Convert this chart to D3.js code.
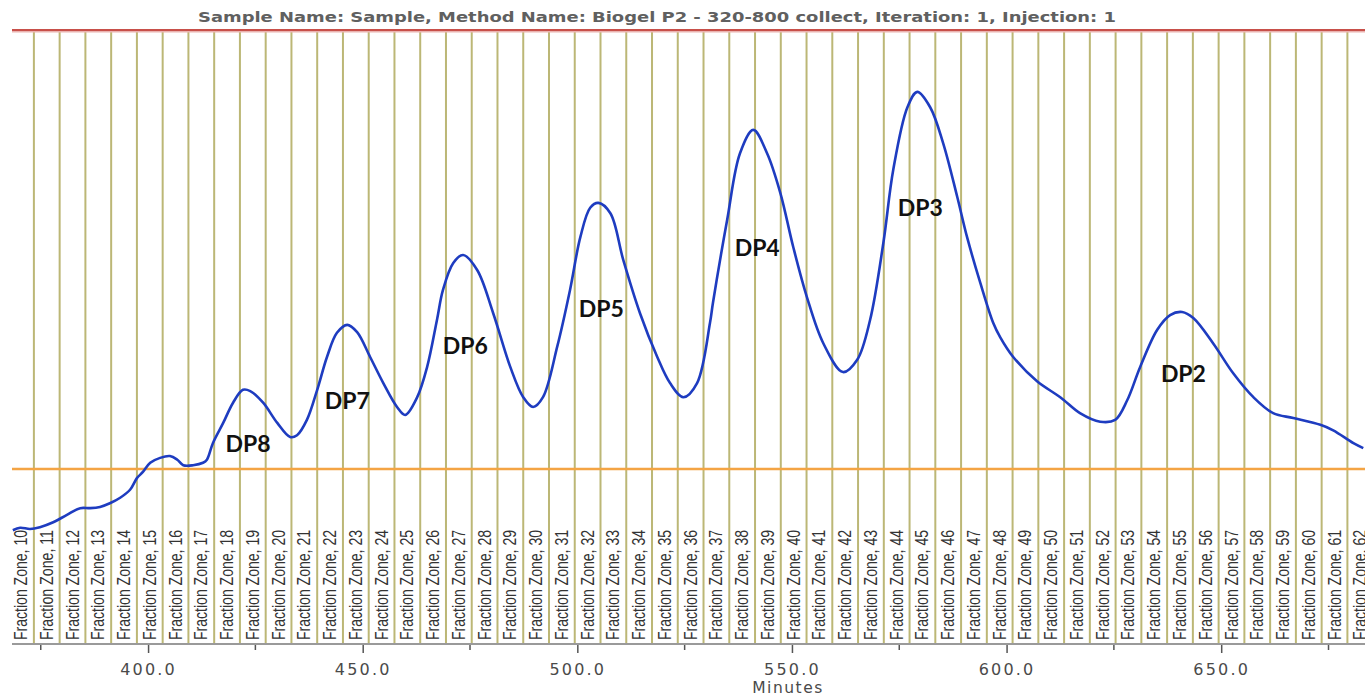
<!DOCTYPE html>
<html>
<head>
<meta charset="utf-8">
<script src="https://cdn.jsdelivr.net/npm/d3@7"></script>
<style>
  html, body { margin: 0; padding: 0; background: #fff; overflow: hidden; }
  svg { display: block; }
</style>
</head>
<body>
<svg id="chart" width="1365" height="697"></svg>
<script>
// ---------- data ----------
const titleText = "Sample Name: Sample, Method Name: Biogel P2 - 320-800 collect, Iteration: 1, Injection: 1";
const xAxisTitle = "Minutes";

const minutes = [368.5,370.2,372.5,374.8,377.9,381.1,384.2,386.5,388.8,391.1,393.5,395.8,397.4,398.8,400.5,402.8,405.1,406.8,408.2,410.5,412.8,413.7,415.1,417.5,419.8,422.1,423.8,426.8,430.1,433.1,434.7,437.0,439.4,441.7,444.0,446.4,448.7,451.7,454.8,458.0,459.9,462.7,465.0,467.3,468.7,471.1,473.4,476.7,480.4,484.4,487.4,489.7,492.0,495.3,498.3,500.7,503.0,504.9,507.7,510.7,514.6,518.6,521.6,524.7,527.9,530.9,531.6,534.9,537.9,541.0,544.2,547.3,550.3,553.5,557.3,561.9,565.2,568.2,571.3,573.6,576.9,579.2,582.2,585.2,588.5,590.8,593.9,596.9,598.5,601.5,607.1,612.5,617.1,621.8,625.3,628.1,631.1,635.1,638.1,640.9,643.5,648.1,652.8,657.5,662.1,666.8,673.1,676.1,680.8,683.1];
const signal = [18.4,18.8,18.6,18.9,19.7,20.9,22.0,22.0,22.2,22.8,23.7,25.0,26.9,27.9,29.4,30.2,30.5,29.9,29.0,29.0,29.4,29.9,32.6,35.9,39.2,41.3,41.1,39.2,35.9,33.6,33.9,36.4,41.3,46.7,50.6,51.9,50.7,46.7,42.4,38.5,37.2,40.1,45.0,52.7,57.6,62.0,63.3,60.8,53.8,45.0,40.1,38.5,40.1,48.3,57.6,66.2,71.0,71.8,70.1,62.5,53.8,46.7,42.4,40.1,42.4,52.2,55.5,69.0,79.9,83.7,79.9,73.4,64.6,56.4,48.9,44.2,46.2,52.7,65.3,77.2,87.4,89.9,87.4,81.6,72.8,66.2,58.7,52.2,49.9,46.7,42.7,40.1,37.5,36.1,36.4,39.6,45.0,51.1,53.5,54.0,53.0,48.9,44.0,40.1,37.5,36.7,35.6,34.7,32.6,31.8];

const upperThreshold = 100;
const lowerThreshold = 28.4;

const zoneNumbers = [10,11,12,13,14,15,16,17,18,19,20,21,22,23,24,25,26,27,28,29,30,31,32,33,34,35,36,37,38,39,40,41,42,43,44,45,46,47,48,49,50,51,52,53,54,55,56,57,58,59,60,61,62];
const zoneStarts = [367.4,373.4,379.4,385.4,391.4,397.4,403.4,409.4,415.4,421.4,427.4,433.4,439.4,445.4,451.4,457.4,463.4,469.4,475.4,481.4,487.4,493.4,499.4,505.4,511.4,517.4,523.4,529.4,535.4,541.4,547.4,553.4,559.4,565.4,571.4,577.4,583.4,589.4,595.4,601.4,607.4,613.4,619.4,625.4,631.4,637.4,643.4,649.4,655.4,661.4,667.4,673.4,679.4];
const zoneWidth = 6;

const peakLabels = ["DP8","DP7","DP6","DP5","DP4","DP3","DP2"];
const peakLabelMin = [423.3,446.4,473.9,505.6,541.9,579.9,641.2];
const peakLabelVal = [32.6,39.6,48.6,54.6,64.6,71.1,44.0];

const majorTicks = [400,450,500,550,600,650];
const minorTicks = [375,425,475,525,575,625,675];

// ---------- layout ----------
const svg = d3.select("#chart");
const plotL = 12, plotR = 1365, plotT = 30, plotB = 643;

const x = d3.scaleLinear().domain([368.3, 683.5]).range([plotL, plotR]);
const y = d3.scaleLinear().domain([0, 100]).range([plotB, plotT]);

// title
svg.append("text")
  .attr("x", 657).attr("y", 22)
  .attr("text-anchor", "middle")
  .attr("font-family", "DejaVu Sans, Verdana, sans-serif")
  .attr("font-size", 13.5)
  .attr("font-weight", "bold")
  .attr("fill", "#606060")
  .attr("textLength", 918)
  .attr("lengthAdjust", "spacingAndGlyphs")
  .text(titleText);

// fraction zone boundaries
const zoneG = svg.append("g");
zoneG.selectAll("line")
  .data(zoneStarts.filter(s => s > x.domain()[0]))
  .join("line")
  .attr("x1", d => x(d)).attr("x2", d => x(d))
  .attr("y1", plotT).attr("y2", plotB)
  .attr("stroke", "#bcb776")
  .attr("stroke-width", 2);

// fraction zone labels
const lblG = svg.append("g");
zoneNumbers.forEach((z, i) => {
  const cx = x(zoneStarts[i] + zoneWidth / 2) - 0.5;
  lblG.append("text")
    .attr("transform", `translate(${cx},${plotB - 3}) rotate(-90)`)
    .attr("dominant-baseline", "central")
    .attr("font-family", "Liberation Sans, Arial, sans-serif")
    .attr("font-size", 18.5)
    .attr("fill", "#333")
    .attr("textLength", 110)
    .attr("lengthAdjust", "spacingAndGlyphs")
    .text(`Fraction Zone, ${z}`);
});

// thresholds
svg.append("line")
  .attr("x1", plotL).attr("x2", plotR)
  .attr("y1", y(upperThreshold) + 1.5).attr("y2", y(upperThreshold) + 1.5)
  .attr("stroke", "#eab3b0").attr("stroke-width", 2);
svg.append("line")
  .attr("x1", plotL).attr("x2", plotR)
  .attr("y1", y(upperThreshold)).attr("y2", y(upperThreshold))
  .attr("stroke", "#c8504a").attr("stroke-width", 2);
svg.append("line")
  .attr("x1", plotL).attr("x2", plotR)
  .attr("y1", y(lowerThreshold)).attr("y2", y(lowerThreshold))
  .attr("stroke", "#f4a444").attr("stroke-width", 2.5);

// x axis
const axisG = svg.append("g").attr("transform", `translate(0,${plotB})`);
axisG.append("line")
  .attr("x1", plotL).attr("x2", plotR).attr("y1", 1).attr("y2", 1)
  .attr("stroke", "#9a9a9a").attr("stroke-width", 2);
axisG.selectAll("line.minor")
  .data(minorTicks).join("line").attr("class", "minor")
  .attr("x1", d => x(d)).attr("x2", d => x(d))
  .attr("y1", 2).attr("y2", 7)
  .attr("stroke", "#555").attr("stroke-width", 1.5);
const axis = d3.axisBottom(x).tickValues(majorTicks).tickFormat(d3.format(".1f")).tickSize(10).tickPadding(11);
const ax = axisG.append("g").call(axis);
ax.select(".domain").remove();
ax.selectAll(".tick line").attr("stroke", "#555").attr("stroke-width", 1.5).attr("y1", 2);
ax.selectAll(".tick text")
  .attr("font-family", "DejaVu Sans, Verdana, sans-serif")
  .attr("font-size", 16)
  .attr("letter-spacing", 2.2)
  .attr("fill", "#4a4a4a");

svg.append("text")
  .attr("x", 788).attr("y", 693)
  .attr("text-anchor", "middle")
  .attr("font-family", "DejaVu Sans, Verdana, sans-serif")
  .attr("font-size", 15.5)
  .attr("letter-spacing", 1.5)
  .attr("fill", "#4a4a4a")
  .text(xAxisTitle);

// chromatogram trace
const line = d3.line()
  .x((d, i) => x(minutes[i]))
  .y(d => y(d))
  .curve(d3.curveCatmullRom.alpha(0.5));
svg.append("path")
  .datum(signal)
  .attr("d", line)
  .attr("fill", "none")
  .attr("stroke", "#1e3cc0")
  .attr("stroke-width", 2.6)
  .attr("stroke-linejoin", "round");

// peak labels
svg.append("g").selectAll("text")
  .data(peakLabels)
  .join("text")
  .attr("x", (d, i) => x(peakLabelMin[i]))
  .attr("y", (d, i) => y(peakLabelVal[i]))
  .attr("text-anchor", "middle")
  .attr("dominant-baseline", "central")
  .attr("font-family", "Lato, Open Sans, sans-serif")
  .attr("font-weight", "bold")
  .attr("font-size", 23)
  .attr("fill", "#111")
  .text(d => d);
</script>
</body>
</html>
